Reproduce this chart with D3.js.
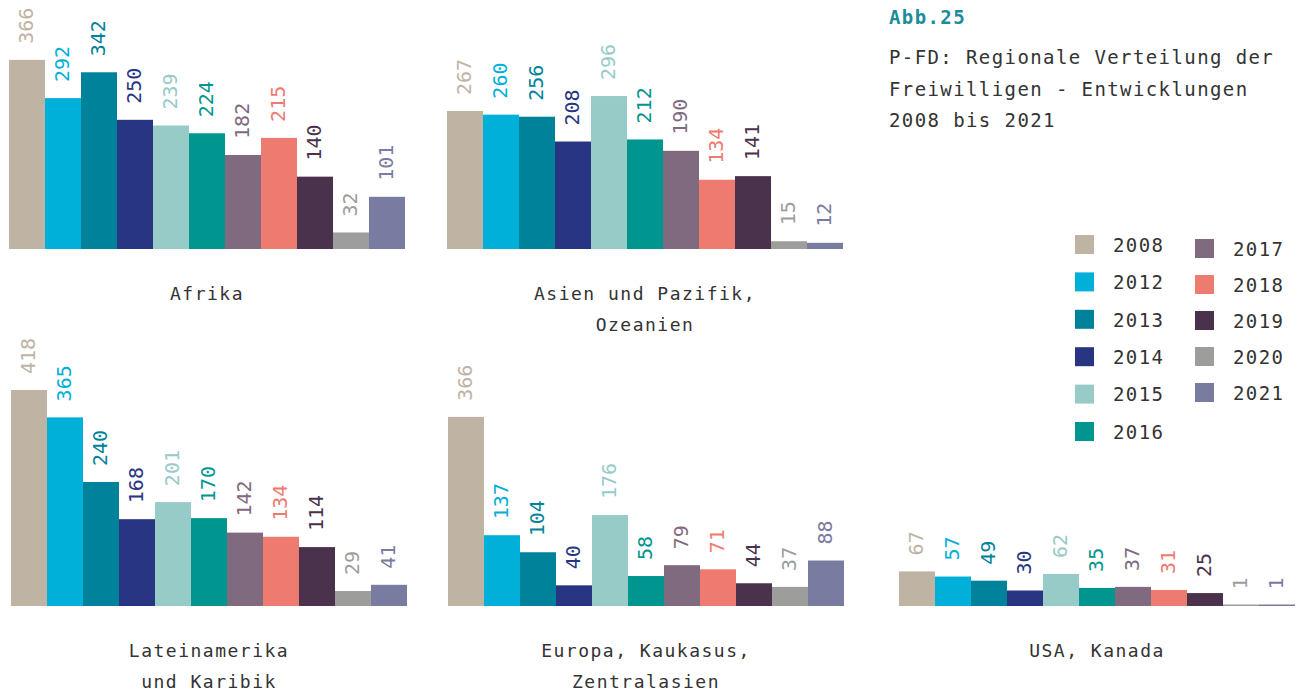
<!DOCTYPE html>
<html>
<head>
<meta charset="utf-8">
<script src="https://cdn.jsdelivr.net/npm/d3@7"></script>
<style>
  body { margin: 0; background: #fff; }
  svg text { font-family: 'DejaVu Sans Mono', monospace; }
</style>
</head>
<body>
<svg width="1300" height="693"></svg>
<script>
const YEARS = ['2008', '2012', '2013', '2014', '2015', '2016', '2017', '2018', '2019', '2020', '2021']
const COLORS = ['#bfb3a4', '#00b0d8', '#00829b', '#283583', '#96cbc8', '#00968f',
  '#7f6a7f', '#ed7b70', '#4a324c', '#9d9d9c', '#7a7ba1']

const REGIONS = [
  ['Afrika'],
  ['Asien und Pazifik,', 'Ozeanien'],
  ['Lateinamerika', 'und Karibik'],
  ['Europa, Kaukasus,', 'Zentralasien'],
  ['USA, Kanada']
]
const AFRIKA = [366, 292, 342, 250, 239, 224, 182, 215, 140, 32, 101]
const ASIEN = [267, 260, 256, 208, 296, 212, 190, 134, 141, 15, 12]
const LATEIN = [418, 365, 240, 168, 201, 170, 142, 134, 114, 29, 41]
const EUROPA = [366, 137, 104, 40, 176, 58, 79, 71, 44, 37, 88]
const USA = [67, 57, 49, 30, 62, 35, 37, 31, 25, 1, 1]
const VALUES = [AFRIKA, ASIEN, LATEIN, EUROPA, USA]

const TITLE = 'Abb.25'
const SUBTITLE = ['P-FD: Regionale Verteilung der', 'Freiwilligen - Entwicklungen', '2008 bis 2021']

// panel placement: left edge, baseline
const PANELS = [
  { x: 9, base: 249 },
  { x: 447, base: 249 },
  { x: 11, base: 606 },
  { x: 448, base: 606 },
  { x: 899, base: 606 }
]
const PANEL_W = 396
const TEXT = '#333'

const svg = d3.select('svg')
const color = d3.scaleOrdinal(YEARS, COLORS)
const h = d3.scaleLinear().domain([0, 418]).range([0, 216])

PANELS.forEach((p, i) => {
  const data = VALUES[i].map((v, j) => ({ year: YEARS[j], value: v }))
  const x = d3.scaleBand().domain(YEARS).range([p.x, p.x + PANEL_W]).padding(0)
  const g = svg.append('g')

  g.selectAll('rect')
    .data(data)
    .enter().append('rect')
    .attr('x', d => x(d.year))
    .attr('y', d => p.base - Math.max(h(d.value), 1.5))
    .attr('width', x.bandwidth())
    .attr('height', d => Math.max(h(d.value), 1.5))
    .attr('fill', d => color(d.year))

  g.selectAll('text.val')
    .data(data)
    .enter().append('text')
    .attr('class', 'val')
    .attr('transform', d => `translate(${x(d.year) + x.bandwidth() / 2 - 1},${p.base - h(d.value) - 16}) rotate(-90)`)
    .attr('dy', '0.36em')
    .attr('font-size', 20)
    .attr('fill', d => color(d.year))
    .text(d => d.value)

  const cx = p.x + PANEL_W / 2
  g.selectAll('text.cat')
    .data(REGIONS[i])
    .enter().append('text')
    .attr('class', 'cat')
    .attr('x', cx)
    .attr('y', (d, k) => p.base + 51 + k * 31)
    .attr('text-anchor', 'middle')
    .attr('font-size', 18)
    .attr('letter-spacing', 1.5)
    .attr('fill', TEXT)
    .text(d => d)
})

// title block
svg.append('text')
  .attr('x', 889).attr('y', 24)
  .attr('font-size', 19)
  .attr('font-weight', 'bold')
  .attr('letter-spacing', 1.4)
  .attr('fill', '#1c8c9c')
  .text(TITLE)

svg.selectAll('text.sub')
  .data(SUBTITLE)
  .enter().append('text')
  .attr('class', 'sub')
  .attr('x', 889)
  .attr('y', (d, i) => 64 + i * 31.5)
  .attr('font-size', 19)
  .attr('letter-spacing', 1.4)
  .attr('fill', TEXT)
  .text(d => d)

// legend, two columns
const legend = svg.append('g')
const items = YEARS.map((y, i) => ({
  year: y,
  col: i < 6 ? 0 : 1,
  row: i < 6 ? i : i - 6
}))
const lx = [1075, 1195]
const ly = [235, 239]
const step = [37.4, 36]

const li = legend.selectAll('g')
  .data(items)
  .enter().append('g')
  .attr('transform', d => `translate(${lx[d.col]},${ly[d.col] + d.row * step[d.col]})`)

li.append('rect')
  .attr('width', 19).attr('height', 19)
  .attr('fill', d => color(d.year))

li.append('text')
  .attr('x', 38).attr('y', 10)
  .attr('dy', '0.36em')
  .attr('font-size', 19)
  .attr('letter-spacing', 1.4)
  .attr('fill', TEXT)
  .text(d => d.year)
</script>
</body>
</html>
